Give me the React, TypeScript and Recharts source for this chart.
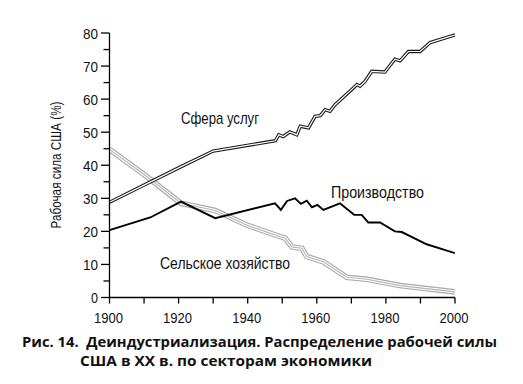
import React from 'react';
import { LineChart, Line, XAxis, YAxis } from 'recharts';

const serviceYears = [1900, 1910, 1920, 1930, 1948, 1949, 1950.3, 1952.2, 1954.2, 1955.2, 1957.6, 1959.5, 1961, 1962.4, 1963.8, 1965.3, 1970.6, 1971.6, 1972.5, 1974, 1975.9, 1979.7, 1982.6, 1984.1, 1986.5, 1989.9, 1992.8, 1998.6, 2000];
const serviceValues = [28.8, 34, 39.2, 44.3, 47.4, 49.2, 48.7, 50.1, 49.2, 51.8, 51.3, 54.8, 55, 56.8, 56.3, 58.3, 63.4, 64.4, 63.9, 65.4, 68.4, 68.2, 72.1, 71.6, 74.4, 74.4, 77.1, 79, 79.4];

const manufYears = [1900, 1911.8, 1920.7, 1930.6, 1947.9, 1949.6, 1951.4, 1953.7, 1955.4, 1957.1, 1958.6, 1960.2, 1961.9, 1966.7, 1970.8, 1973, 1974.9, 1978.3, 1982.6, 1984.6, 1991.8, 2000];
const manufValues = [20.4, 24.2, 29, 24, 28.5, 26.5, 29.2, 30, 28.3, 29.3, 27.3, 28, 26.5, 28.5, 25, 25, 22.7, 22.7, 20, 19.8, 16.1, 13.4];

const agriYears = [1900, 1910, 1920.7, 1930.6, 1940, 1949.4, 1950.8, 1952.8, 1955.7, 1957.1, 1961.9, 1968.7, 1974.5, 1984.1, 2000];
const agriValues = [44.8, 37.2, 28.5, 26.3, 21.8, 18.4, 18, 15.3, 14.9, 12.4, 10.8, 6.1, 5.5, 3.6, 1.7];

const xTicks = [1900, 1910, 1920, 1930, 1940, 1950, 1960, 1970, 1980, 1990, 2000];
const yTicks = [0, 5, 10, 15, 20, 25, 30, 35, 40, 45, 50, 55, 60, 65, 70, 75, 80];

const seriesLabels = {
  services: 'Сфера услуг',
  manuf: 'Производство',
  agri: 'Сельское хозяйство',
};
const yLabel = 'Рабочая сила США (%)';
const captionLine1 = 'Рис. 14.  Деиндустриализация. Распределение рабочей силы';
const captionLine2 = 'США в XX в. по секторам экономики';

const toData = (xs: number[], vs: number[]) => xs.map((year, i) => ({ year, v: vs[i] }));
const servicesData = toData(serviceYears, serviceValues);
const manufData = toData(manufYears, manufValues);
const agriData = toData(agriYears, agriValues);

const SANS = '"Liberation Sans", Arial, sans-serif';
const CAPTION = '"Open Sans", sans-serif';

const XTick = (props: any) => {
  const { x, y, payload } = props;
  const v = payload.value;
  return (
    <g>
      <line x1={x} y1={y} x2={x} y2={y + 6} stroke="#000" strokeWidth={1.3} />
      {v % 20 === 0 && (
        <text x={x - 1} y={y + 25} textAnchor="middle" fontFamily={SANS} fontSize={15} fill="#111"
          textLength={29} lengthAdjust="spacingAndGlyphs">
          {v}
        </text>
      )}
    </g>
  );
};

const YTick = (props: any) => {
  const { x, y, payload } = props;
  const v = payload.value;
  const major = v % 10 === 0;
  const len = String(v).length === 1 ? 7 : 15;
  return (
    <g>
      <line x1={x - (major ? 8.5 : 6)} y1={y} x2={x} y2={y} stroke="#000" strokeWidth={1.3} />
      {major && (
        <text x={x - 11.5} y={y + 5.5} textAnchor="end" fontFamily={SANS} fontSize={15} fill="#111"
          textLength={len} lengthAdjust="spacingAndGlyphs">
          {v}
        </text>
      )}
    </g>
  );
};

export default function App() {
  return (
    <div style={{ position: 'absolute', left: 0, top: 0, width: 523, height: 384, background: '#fff' }}>
      <LineChart
        width={523}
        height={384}
        margin={{ top: 33, right: 68, left: 49.5, bottom: 56.5 }}
      >
        <XAxis
          type="number"
          dataKey="year"
          domain={[1900, 2000]}
          ticks={xTicks}
          tick={<XTick />}
          tickLine={false}
          tickSize={0}
          tickMargin={0}
          height={30}
          axisLine={{ stroke: '#000', strokeWidth: 1.3 }}
          interval={0}
          allowDataOverflow
        />
        <YAxis
          type="number"
          domain={[0, 80]}
          ticks={yTicks}
          tick={<YTick />}
          tickLine={false}
          tickSize={0}
          tickMargin={0}
          width={60}
          axisLine={{ stroke: '#000', strokeWidth: 1.3 }}
          interval={0}
        />
        <Line data={agriData} dataKey="v" type="linear" stroke="#a8a8a8" strokeWidth={5.6} dot={false} activeDot={false} isAnimationActive={false} />
        <Line data={agriData} dataKey="v" type="linear" stroke="#ffffff" strokeWidth={3.4} dot={false} activeDot={false} isAnimationActive={false} />
        <Line data={agriData} dataKey="v" type="linear" stroke="#b4b4b4" strokeWidth={1.1} dot={false} activeDot={false} isAnimationActive={false} />
        <Line data={manufData} dataKey="v" type="linear" stroke="#000" strokeWidth={1.9} dot={false} activeDot={false} isAnimationActive={false} />
        <Line data={servicesData} dataKey="v" type="linear" stroke="#1a1a1a" strokeWidth={3.4} dot={false} activeDot={false} isAnimationActive={false} />
        <Line data={servicesData} dataKey="v" type="linear" stroke="#ffffff" strokeWidth={1.2} dot={false} activeDot={false} isAnimationActive={false} />
      </LineChart>

      <svg width={523} height={384} style={{ position: 'absolute', left: 0, top: 0, pointerEvents: 'none' }}>
        <text x={181} y={124} fontFamily={SANS} fontSize={17} fill="#111" textLength={78} lengthAdjust="spacingAndGlyphs">
          {seriesLabels.services}
        </text>
        <text x={331} y={198} fontFamily={SANS} fontSize={17} fill="#111" textLength={93} lengthAdjust="spacingAndGlyphs">
          {seriesLabels.manuf}
        </text>
        <text x={160} y={269} fontFamily={SANS} fontSize={17} fill="#111" textLength={130} lengthAdjust="spacingAndGlyphs">
          {seriesLabels.agri}
        </text>
        <text x={0} y={0} transform="translate(61 165) rotate(-90)" textAnchor="middle" fontFamily={SANS} fontSize={14}
          fill="#111" textLength={127} lengthAdjust="spacingAndGlyphs">
          {yLabel}
        </text>
        <text x={22} y={347} fontFamily={CAPTION} fontWeight={700} fontSize={13.5} fill="#111" textLength={475}
          lengthAdjust="spacingAndGlyphs" style={{ whiteSpace: 'pre' }}>
          {captionLine1}
        </text>
        <text x={80} y={366} fontFamily={CAPTION} fontWeight={700} fontSize={13.5} fill="#111" textLength={292}
          lengthAdjust="spacingAndGlyphs">
          {captionLine2}
        </text>
      </svg>
    </div>
  );
}
